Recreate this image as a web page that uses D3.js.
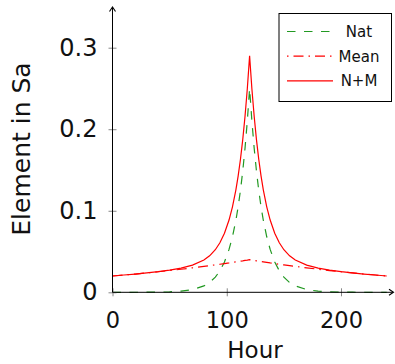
<!DOCTYPE html>
<html>
<head>
<meta charset="utf-8">
<script src="https://cdn.jsdelivr.net/npm/d3@7"></script>
<style>
  body { margin: 0; background: #fff; }
  svg { display: block; font-family: "DejaVu Sans", sans-serif; }
</style>
</head>
<body>
<div id="chart"></div>
<script>
// hours sampled along the curves (denser round the peak at 120 h)
const hours = [0, 10, 20, 30, 40, 50, 60, 70, 80, 85, 90, 94, 98, 102, 105, 108, 110, 112, 114, 116, 118, 120,
  122, 124, 126, 128, 130, 132, 135, 138, 142, 146, 150, 155, 160, 170, 180, 190, 200, 210, 220, 230, 240];

// values
const nat = [0.00001, 0.00002, 0.00004, 0.0001, 0.00024, 0.00058, 0.0014, 0.0033, 0.0078, 0.012, 0.0186, 0.0263, 0.0372,
  0.0526, 0.0681, 0.0884, 0.1051, 0.125, 0.1487, 0.1768, 0.2102, 0.25,
  0.2102, 0.1768, 0.1487, 0.125, 0.1051, 0.0884, 0.0681, 0.0526, 0.0372, 0.0263, 0.0186, 0.012, 0.0078,
  0.0033, 0.0014, 0.00058, 0.00024, 0.0001, 0.00004, 0.00002, 0.00001];
const mean = [0.02, 0.0212, 0.0224, 0.0238, 0.0252, 0.0267, 0.0283, 0.03, 0.0317, 0.0327, 0.0336, 0.0344, 0.0352,
  0.036, 0.0367, 0.0373, 0.0377, 0.0382, 0.0386, 0.0391, 0.0395, 0.04,
  0.0395, 0.0391, 0.0386, 0.0382, 0.0377, 0.0373, 0.0367, 0.036, 0.0352, 0.0344, 0.0336, 0.0327, 0.0317,
  0.03, 0.0283, 0.0267, 0.0252, 0.0238, 0.0224, 0.0212, 0.02];
const total = [0.02, 0.0212, 0.0224, 0.0239, 0.0254, 0.0273, 0.0297, 0.0333, 0.0395, 0.0447, 0.0522, 0.0607, 0.0724,
  0.0886, 0.1048, 0.1257, 0.1428, 0.1632, 0.1873, 0.2159, 0.2497, 0.29,
  0.2497, 0.2159, 0.1873, 0.1632, 0.1428, 0.1257, 0.1048, 0.0886, 0.0724, 0.0607, 0.0522, 0.0447, 0.0395,
  0.0333, 0.0297, 0.0273, 0.0254, 0.0239, 0.0224, 0.0212, 0.02];

const xTicks = [0, 100, 200];
const yTicks = [0, 0.1, 0.2, 0.3];

const seriesNames = ['Nat', 'Mean', 'N+M'];
const seriesColors = ['#229922', '#ff0000', '#ff0000'];
const seriesDash = ['8.5,8.5', '10,5,1.5,5', null];
const legendOffset = [0, 15, 0];

const width = 395;
const height = 364;

const svg = d3.select('#chart')
  .append('svg')
  .attr('width', width)
  .attr('height', height);

const xScale = d3.scaleLinear().domain([0, 200]).range([112.5, 341]);
const yScale = d3.scaleLinear().domain([0, 0.3]).range([292.3, 47.7]);

// lines
const series = [nat, mean, total];
const line = d3.line()
  .x((d, i) => xScale(hours[i]))
  .y((d) => yScale(d));

svg.append('g')
  .selectAll('path')
  .data(series)
  .join('path')
  .attr('d', (d) => line(d))
  .attr('fill', 'none')
  .attr('stroke', (d, i) => seriesColors[i])
  .attr('stroke-width', 1.2)
  .attr('stroke-dasharray', (d, i) => seriesDash[i]);

// x axis
const xAxis = svg.append('g')
  .attr('transform', `translate(0, ${yScale(0)})`)
  .call(d3.axisBottom(xScale).tickValues(xTicks).tickSize(4).tickPadding(16).tickFormat(d3.format('d')));
xAxis.select('.domain').remove();
xAxis.selectAll('.tick line').attr('y1', -4).attr('y2', 4).attr('stroke', '#888');
xAxis.selectAll('.tick text').attr('font-size', 22.5).attr('font-family', 'DejaVu Sans').attr('fill', '#111');

// y axis
const yAxis = svg.append('g')
  .attr('transform', `translate(${xScale(0)}, 0)`)
  .call(d3.axisLeft(yScale).tickValues(yTicks).tickSize(4).tickPadding(11).tickFormat((d) => d === 0 ? '0' : d3.format('.1f')(d)));
yAxis.select('.domain').remove();
yAxis.selectAll('.tick line').attr('x1', -4).attr('x2', 4).attr('stroke', '#888');
yAxis.selectAll('.tick text').attr('font-size', 24).attr('font-family', 'DejaVu Sans').attr('fill', '#111');

// axis lines with arrow heads
const x0 = xScale(0);
const y0 = yScale(0);
svg.append('line').attr('x1', x0).attr('x2', 393).attr('y1', y0).attr('y2', y0)
  .attr('stroke', '#000').attr('stroke-width', 1);
svg.append('path').attr('d', `M${389},${y0 - 3} L${393.5},${y0} L${389},${y0 + 3}`)
  .attr('fill', 'none').attr('stroke', '#000').attr('stroke-width', 1.1);
svg.append('line').attr('x1', x0).attr('x2', x0).attr('y1', y0).attr('y2', 7.5)
  .attr('stroke', '#000').attr('stroke-width', 1);
svg.append('path').attr('d', `M${x0 - 3},${11.5} L${x0},${7} L${x0 + 3},${11.5}`)
  .attr('fill', 'none').attr('stroke', '#000').attr('stroke-width', 1.1);

// axis titles
svg.append('text')
  .attr('x', 255).attr('y', 358)
  .attr('text-anchor', 'middle')
  .attr('font-size', 23)
  .attr('fill', '#111')
  .text('Hour');

svg.append('text')
  .attr('transform', 'translate(30, 149) rotate(-90)')
  .attr('text-anchor', 'middle')
  .attr('font-size', 25)
  .attr('fill', '#111')
  .text('Element in Sa');

// legend
const legend = svg.append('g');
legend.append('rect')
  .attr('x', 279).attr('y', 13.5).attr('width', 112.5).attr('height', 88)
  .attr('fill', '#fff').attr('stroke', '#000').attr('stroke-width', 1);

const rows = legend.selectAll('g.row')
  .data(seriesNames)
  .join('g')
  .attr('class', 'row')
  .attr('transform', (d, i) => `translate(0, ${31.5 + i * 24.7})`);

rows.append('line')
  .attr('x1', 287).attr('x2', 333)
  .attr('stroke', (d, i) => seriesColors[i])
  .attr('stroke-width', 1.2)
  .attr('stroke-dasharray', (d, i) => seriesDash[i])
  .attr('stroke-dashoffset', (d, i) => legendOffset[i]);

rows.append('text')
  .attr('x', 359).attr('y', 5.5)
  .attr('text-anchor', 'middle')
  .attr('font-size', 15)
  .attr('fill', '#111')
  .text((d) => d);
</script>
</body>
</html>
